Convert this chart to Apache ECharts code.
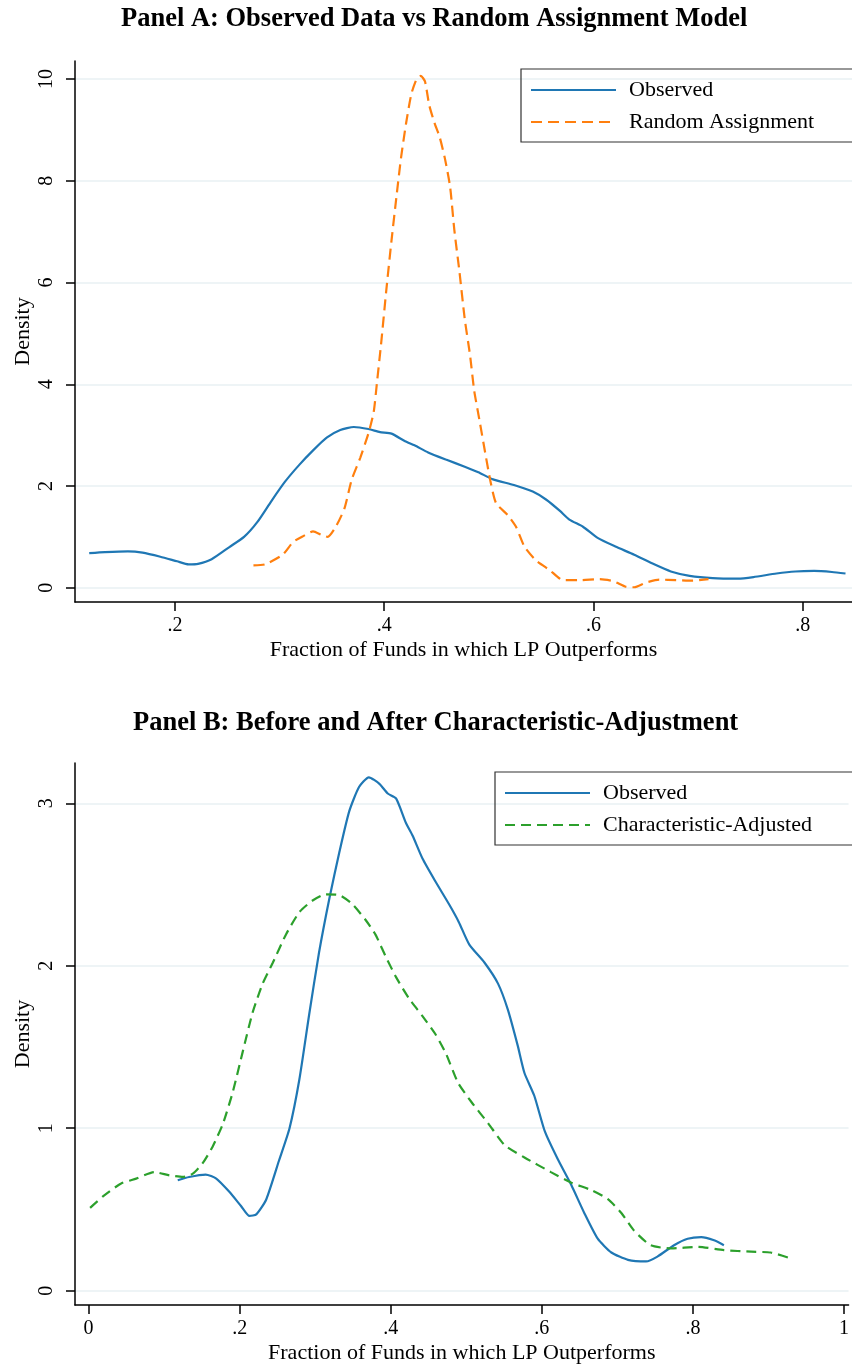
<!DOCTYPE html>
<html>
<head>
<meta charset="utf-8">
<script src="https://cdn.jsdelivr.net/npm/echarts@6/dist/echarts.min.js"></script>
<style>
html, body { margin: 0; padding: 0; background: #fff; }
#chart { width: 852px; height: 1366px; }
</style>
</head>
<body>
<div id="chart"></div>
<script>
// kernel density estimates: [fraction, density]
var observed = [
    [0.118, 0.68], [0.133, 0.70], [0.155, 0.715], [0.169, 0.69], [0.186, 0.61],
    [0.202, 0.52], [0.213, 0.46], [0.222, 0.47], [0.235, 0.56], [0.252, 0.80],
    [0.266, 1.00], [0.279, 1.30], [0.292, 1.70], [0.305, 2.08], [0.319, 2.42],
    [0.332, 2.70], [0.345, 2.95], [0.358, 3.10], [0.371, 3.16], [0.385, 3.12],
    [0.396, 3.06], [0.407, 3.03], [0.420, 2.88], [0.429, 2.80], [0.442, 2.66],
    [0.459, 2.52], [0.477, 2.38], [0.490, 2.27], [0.504, 2.13], [0.524, 2.02],
    [0.542, 1.89], [0.555, 1.73], [0.568, 1.51], [0.577, 1.34], [0.590, 1.20],
    [0.604, 0.98], [0.621, 0.81], [0.639, 0.65], [0.656, 0.48], [0.674, 0.32],
    [0.692, 0.235], [0.714, 0.19], [0.738, 0.18], [0.753, 0.21], [0.775, 0.28],
    [0.793, 0.32], [0.811, 0.33], [0.828, 0.31], [0.841, 0.28]
];
var randomAssign = [
    [0.275, 0.44], [0.286, 0.46], [0.303, 0.65], [0.313, 0.90], [0.323, 1.02],
    [0.332, 1.11], [0.340, 1.04], [0.346, 1.00], [0.354, 1.21], [0.362, 1.56],
    [0.369, 2.13], [0.377, 2.55], [0.385, 3.04], [0.390, 3.46], [0.393, 4.02],
    [0.397, 4.79], [0.402, 5.85], [0.407, 6.83], [0.412, 7.74], [0.416, 8.44],
    [0.421, 9.14], [0.426, 9.71], [0.431, 10.0], [0.435, 10.06], [0.439, 9.95],
    [0.443, 9.49], [0.448, 9.14], [0.453, 8.86], [0.458, 8.44], [0.463, 7.88],
    [0.467, 7.04], [0.472, 6.20], [0.477, 5.28], [0.482, 4.58], [0.486, 3.88],
    [0.491, 3.30], [0.497, 2.60], [0.502, 2.05], [0.507, 1.66], [0.518, 1.43],
    [0.526, 1.20], [0.534, 0.81], [0.545, 0.54], [0.558, 0.35], [0.571, 0.15],
    [0.587, 0.15], [0.606, 0.17], [0.619, 0.13], [0.631, 0.02], [0.639, 0.01],
    [0.650, 0.10], [0.663, 0.16], [0.679, 0.15], [0.695, 0.14], [0.710, 0.17]
];
var charAdjusted = [
    [0.002, 0.51], [0.019, 0.58], [0.043, 0.66], [0.063, 0.69], [0.087, 0.73],
    [0.107, 0.71], [0.125, 0.70], [0.138, 0.72], [0.151, 0.785], [0.164, 0.885],
    [0.178, 1.03], [0.191, 1.225], [0.204, 1.47], [0.217, 1.71], [0.230, 1.885],
    [0.244, 2.02], [0.261, 2.19], [0.279, 2.33], [0.296, 2.40], [0.314, 2.44],
    [0.332, 2.435], [0.349, 2.38], [0.367, 2.28], [0.380, 2.19], [0.393, 2.06],
    [0.407, 1.93], [0.424, 1.80], [0.442, 1.69], [0.459, 1.58], [0.473, 1.46],
    [0.489, 1.28], [0.507, 1.16], [0.529, 1.03], [0.551, 0.895], [0.577, 0.82],
    [0.612, 0.73], [0.639, 0.665], [0.665, 0.62], [0.687, 0.565], [0.705, 0.48],
    [0.722, 0.37], [0.744, 0.28], [0.771, 0.26], [0.806, 0.27], [0.841, 0.25],
    [0.877, 0.24], [0.903, 0.235], [0.932, 0.195]
];

var xTicksA = [0.2, 0.4, 0.6, 0.8];
var yTicksA = [0, 2, 4, 6, 8, 10];
var xTicksB = [0, 0.2, 0.4, 0.6, 0.8, 1];
var yTicksB = [0, 1, 2, 3];

var serif = 'Liberation Serif';
var xName = 'Fraction of Funds in which LP Outperforms';

function fracLabel(v) {
    if (v === 0 || v === 1) return String(v);
    return String(+v.toFixed(1)).replace(/^0/, '');
}

function xAxisFor(grid, min, max, ticks) {
    return {
        type: 'value', gridIndex: grid, min: min, max: max,
        name: xName, nameLocation: 'middle', nameGap: 37, nameMoveOverlap: false,
        nameTextStyle: { fontFamily: serif, fontSize: 22, color: '#000' },
        axisLine: { onZero: false, lineStyle: { color: '#000', width: 1.5 } },
        axisTick: { customValues: ticks, length: 9, lineStyle: { color: '#000', width: 1.5 } },
        axisLabel: { customValues: ticks, formatter: fracLabel, margin: 14,
            fontFamily: serif, fontSize: 20, color: '#000' },
        splitLine: { show: false }
    };
}

function yAxisFor(grid, min, max, ticks) {
    return {
        type: 'value', gridIndex: grid, min: min, max: max,
        name: 'Density', nameLocation: 'middle', nameGap: 41, nameMoveOverlap: false,
        nameTextStyle: { fontFamily: serif, fontSize: 22, color: '#000' },
        axisLine: { show: true, onZero: false, lineStyle: { color: '#000', width: 1.5 } },
        axisTick: { show: true, customValues: ticks, length: 9, lineStyle: { color: '#000', width: 1.5 } },
        axisLabel: { customValues: ticks, rotate: 90, margin: 18,
            fontFamily: serif, fontSize: 20, color: '#000' },
        splitLine: { show: true, customValues: ticks, lineStyle: { color: '#e9f0f3', width: 1.5 } }
    };
}

function legendFor(left, top, names) {
    return {
        left: left, top: top, orient: 'vertical', data: names,
        itemWidth: 85, itemHeight: 14, itemGap: 10,
        padding: [10, 200, 9, 9],
        borderColor: '#333', borderWidth: 1.2,
        itemStyle: { opacity: 0 },
        textStyle: { fontFamily: serif, fontSize: 22, color: '#000', padding: [0, 0, 0, 8] }
    };
}

var titleStyle = { fontFamily: serif, fontSize: 26.5, fontWeight: 'bold', color: '#000' };

var chart = echarts.init(document.getElementById('chart'));
var option = {
    backgroundColor: '#fff',
    animation: false,
    title: [
        { text: 'Panel A: Observed Data vs Random Assignment Model', left: 121, top: 6,
          padding: 0, textStyle: titleStyle },
        { text: 'Panel B: Before and After Characteristic-Adjustment', left: 133, top: 710,
          padding: 0, textStyle: titleStyle }
    ],
    legend: [
        legendFor(521, 69, ['Observed', 'Random Assignment']),
        legendFor(495, 772, ['Observed', 'Characteristic-Adjusted'])
    ],
    grid: [
        { left: 75, right: 0, top: 61, height: 541 },
        { left: 75, right: 0, top: 763, height: 542 }
    ],
    xAxis: [
        xAxisFor(0, 0.1044, 0.8472, xTicksA),
        xAxisFor(1, -0.018, 1.006, xTicksB)
    ],
    yAxis: [
        yAxisFor(0, -0.28, 10.354, yTicksA),
        yAxisFor(1, -0.088, 3.248, yTicksB)
    ],
    series: [
        { name: 'Observed', type: 'line', xAxisIndex: 0, yAxisIndex: 0, data: observed,
          symbol: 'none', smooth: 0.2, lineStyle: { color: '#1f77b4', width: 2.2 }, itemStyle: { color: '#1f77b4' } },
        { name: 'Random Assignment', type: 'line', xAxisIndex: 0, yAxisIndex: 0, data: randomAssign,
          symbol: 'none', smooth: 0.2, lineStyle: { color: '#ff7f0e', width: 2.2, type: [11, 6] }, itemStyle: { color: '#ff7f0e' } },
        { name: 'Observed', type: 'line', xAxisIndex: 1, yAxisIndex: 1, data: observed,
          symbol: 'none', smooth: 0.2, lineStyle: { color: '#1f77b4', width: 2.2 }, itemStyle: { color: '#1f77b4' } },
        { name: 'Characteristic-Adjusted', type: 'line', xAxisIndex: 1, yAxisIndex: 1, data: charAdjusted,
          symbol: 'none', smooth: 0.2, lineStyle: { color: '#2ca02c', width: 2.2, type: [10, 6] }, itemStyle: { color: '#2ca02c' } }
    ]
};
chart.setOption(option);
</script>
</body>
</html>
